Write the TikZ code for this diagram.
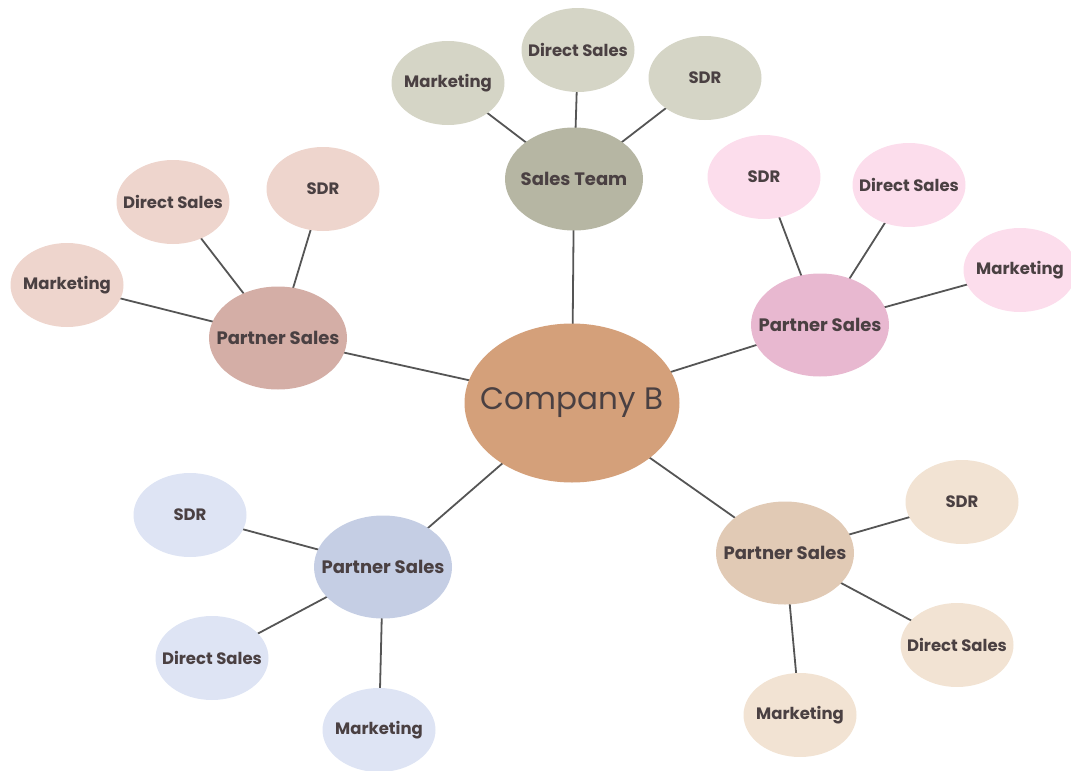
\documentclass[tikz,border=0pt]{standalone}
\usepackage{fontspec}
\setmainfont{Poppins}
\usetikzlibrary{shapes.geometric,backgrounds}
\newcommand{\ztxt}[1]{\makebox[0pt]{#1}}
\definecolor{txt}{HTML}{4A4042}
\definecolor{edge}{HTML}{555555}
\definecolor{cB}{HTML}{D4A07A}
\definecolor{gMain}{HTML}{B6B6A3}\definecolor{gSub}{HTML}{D5D5C6}
\definecolor{rMain}{HTML}{D4AEA6}\definecolor{rSub}{HTML}{EED5CD}
\definecolor{pMain}{HTML}{E8B8D0}\definecolor{pSub}{HTML}{FCDDEC}
\definecolor{bMain}{HTML}{C5CEE4}\definecolor{bSub}{HTML}{DEE4F4}
\definecolor{tMain}{HTML}{E1CAB5}\definecolor{tSub}{HTML}{F2E3D3}
\tikzset{
  x=1pt,y=-1pt,
  bubble/.style={ellipse,inner sep=0pt,text=txt,font=\fontsize{16.5}{18}\selectfont\bfseries},
  leaf/.style={bubble,minimum width=113pt,minimum height=84pt},
  hub/.style={bubble,minimum width=138pt,minimum height=103pt,font=\fontsize{18}{20}\selectfont\bfseries},
  root/.style={bubble,minimum width=215pt,minimum height=159pt,font=\fontsize{31}{34}\selectfont\mdseries},
  link/.style={draw=edge,line width=1.8pt}
}
\begin{document}
\begin{tikzpicture}
\useasboundingbox (0,0) rectangle (1071,771);
\node[root,fill=cB] (cb) at (572,403) {\ztxt{Company B}};
% top
\node[hub,fill=gMain] (st) at (574,179) {\ztxt{Sales Team}};
\node[leaf,fill=gSub] (stm) at (448,83) {\ztxt{Marketing}};
\node[leaf,fill=gSub] (std) at (578,50) {\ztxt{Direct Sales}};
\node[leaf,fill=gSub] (sts) at (705,78) {\ztxt{SDR}};
% left
\node[hub,fill=rMain] (lp) at (278,338) {\ztxt{Partner Sales}};
\node[leaf,fill=rSub] (lpd) at (173,202) {\ztxt{Direct Sales}};
\node[leaf,fill=rSub] (lps) at (323,189) {\ztxt{SDR}};
\node[leaf,fill=rSub] (lpm) at (67,285) {\ztxt{Marketing}};
% right
\node[hub,fill=pMain] (rp) at (820,325) {\ztxt{Partner Sales}};
\node[leaf,fill=pSub] (rps) at (764,177) {\ztxt{SDR}};
\node[leaf,fill=pSub] (rpd) at (909,185) {\ztxt{Direct Sales}};
\node[leaf,fill=pSub] (rpm) at (1020,270) {\ztxt{Marketing}};
% lower left
\node[hub,fill=bMain] (bp) at (383,567) {\ztxt{Partner Sales}};
\node[leaf,fill=bSub] (bps) at (190,515) {\ztxt{SDR}};
\node[leaf,fill=bSub] (bpd) at (212,658) {\ztxt{Direct Sales}};
\node[leaf,fill=bSub] (bpm) at (379,730) {\ztxt{Marketing}};
% lower right
\node[hub,fill=tMain] (tp) at (785,553) {\ztxt{Partner Sales}};
\node[leaf,fill=tSub] (tps) at (962,502) {\ztxt{SDR}};
\node[leaf,fill=tSub] (tpd) at (957,645) {\ztxt{Direct Sales}};
\node[leaf,fill=tSub] (tpm) at (800,715) {\ztxt{Marketing}};
\begin{scope}[on background layer]
\foreach \a/\b in {cb/st,cb/lp,cb/rp,cb/bp,cb/tp,
  st/stm,st/std,st/sts,lp/lpd,lp/lps,lp/lpm,rp/rps,rp/rpd,rp/rpm,
  bp/bps,bp/bpd,bp/bpm,tp/tps,tp/tpd,tp/tpm}
  \draw[link] (\a.center) -- (\b.center);
\end{scope}
\end{tikzpicture}
\end{document}
